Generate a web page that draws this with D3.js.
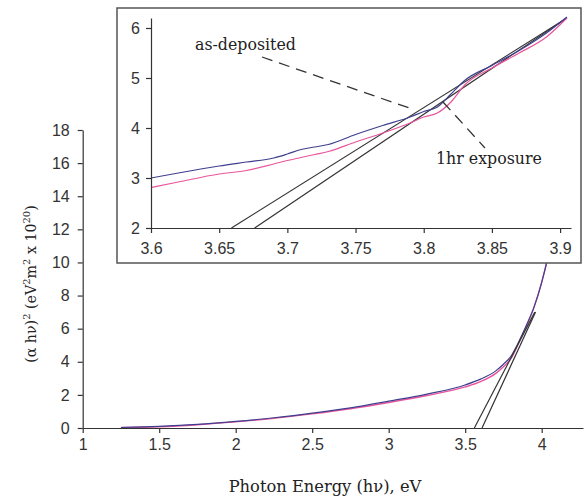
<!DOCTYPE html>
<html>
<head>
<meta charset="utf-8">
<script src="https://cdn.jsdelivr.net/npm/d3@7"></script>
<style>
  body { margin: 0; background: #fff; }
  .tick text { font-family: "Liberation Sans", Arial, sans-serif; font-size: 16px; fill: #333; }
  .domain, .tick line { stroke: #333; stroke-width: 1.2; }
</style>
</head>
<body>
<script>
// Hauptdiagramm: Photonenenergie (eV) und (alpha h nu)^2
let energyMain = [1.25, 1.5, 1.75, 2, 2.25, 2.5, 2.75, 3, 3.25, 3.5, 3.6, 3.7, 3.75, 3.8, 3.85, 3.9, 3.95, 4.0, 4.05, 4.1];
let asDepositedMain = [0.03, 0.1, 0.22, 0.4, 0.62, 0.9, 1.22, 1.62, 2.05, 2.6, 2.95, 3.45, 3.85, 4.35, 5.2, 6.2, 7.3, 8.8, 10.7, 13];
let exposedMain = [0.03, 0.08, 0.2, 0.37, 0.58, 0.85, 1.16, 1.54, 1.96, 2.48, 2.8, 3.3, 3.7, 4.2, 5.15, 6.15, 7.3, 8.8, 10.7, 13];
let tangentsMain = [
  [[3.56, 0], [3.955, 7.0]],
  [[3.61, 0], [3.96, 7.0]]
];
let xTicksMain = [1, 1.5, 2, 2.5, 3, 3.5, 4];
let yTicksMain = [0, 2, 4, 6, 8, 10, 12, 14, 16, 18];

// Ausschnitt (Inset)
let energyInset = [3.6, 3.62, 3.65, 3.67, 3.69, 3.7, 3.71, 3.72, 3.73, 3.75, 3.77, 3.79, 3.8, 3.81, 3.82, 3.83, 3.85, 3.87, 3.89, 3.905];
let asDepositedInset = [3.0, 3.1, 3.24, 3.32, 3.4, 3.48, 3.57, 3.62, 3.67, 3.87, 4.05, 4.22, 4.33, 4.42, 4.68, 4.95, 5.25, 5.55, 5.9, 6.22];
let exposedInset = [2.81, 2.92, 3.08, 3.15, 3.28, 3.35, 3.41, 3.47, 3.53, 3.72, 3.9, 4.1, 4.22, 4.3, 4.52, 4.86, 5.2, 5.5, 5.82, 6.2];
let tangentsInset = [
  [[3.659, 2], [3.905, 6.2]],
  [[3.676, 2], [3.905, 6.2]]
];
let xTicksInset = [3.6, 3.65, 3.7, 3.75, 3.8, 3.85, 3.9];
let yTicksInset = [2, 3, 4, 5, 6];

let blue = "#3f3f8f";
let pink = "#e8559c";
let dark = "#333";
let serif = "DejaVu Serif, serif";

let svg = d3.select("body").append("svg").attr("width", 584).attr("height", 498);

// Skalen Hauptdiagramm
let x = d3.scaleLinear().domain([1, 4.27]).range([82.7, 583]);
let y = d3.scaleLinear().domain([0, 18]).range([428, 130]);

let lineMain = (vals) => d3.line().x((d, i) => x(energyMain[i])).y((d) => y(d)).curve(d3.curveMonotoneX)(vals);

svg.append("path").attr("d", lineMain(exposedMain)).attr("fill", "none").attr("stroke", pink).attr("stroke-width", 1.4);
svg.append("path").attr("d", lineMain(asDepositedMain)).attr("fill", "none").attr("stroke", blue).attr("stroke-width", 1.2);

tangentsMain.forEach((t) => {
  svg.append("line")
    .attr("x1", x(t[0][0])).attr("y1", y(t[0][1]))
    .attr("x2", x(t[1][0])).attr("y2", y(t[1][1]))
    .attr("stroke", dark).attr("stroke-width", 1.2);
});

svg.append("g").attr("transform", "translate(0,428)")
  .call(d3.axisBottom(x).tickValues(xTicksMain).tickSize(5).tickSizeOuter(0).tickPadding(6).tickFormat(d3.format("")));
svg.append("g").attr("transform", "translate(82.7,0)")
  .call(d3.axisLeft(y).tickValues(yTicksMain).tickSize(5).tickSizeOuter(0).tickPadding(8).tickFormat(d3.format("")));

// Achsentitel
svg.append("text")
  .attr("x", 325).attr("y", 492)
  .attr("text-anchor", "middle")
  .style("font-family", serif).style("font-size", "16.3px").style("fill", "#222")
  .text("Photon Energy (hν), eV");

let yTitle = svg.append("text")
  .attr("transform", "translate(36,284) rotate(-90)")
  .attr("text-anchor", "middle")
  .style("font-family", serif).style("font-size", "14.2px").style("fill", "#222");
let parts = [["(α hν)", 0], ["2", 1], [" (eV", 0], ["2", 1], ["m", 0], ["2", 1], [" x 10", 0], ["20", 1], [")", 0]];
let up = false;
parts.forEach((p) => {
  let ts = yTitle.append("tspan").text(p[0]);
  if (p[1] && !up) { ts.attr("dy", -6).style("font-size", "10px"); up = true; }
  else if (!p[1] && up) { ts.attr("dy", 6); up = false; }
});

// Inset
let inset = svg.append("g");
inset.append("rect")
  .attr("x", 117).attr("y", 8).attr("width", 464).attr("height", 255)
  .attr("fill", "#fff").attr("stroke", "#555").attr("stroke-width", 1.5);

let xi = d3.scaleLinear().domain([3.6, 3.908]).range([151, 571]);
let yi = d3.scaleLinear().domain([2, 6.2]).range([228, 18]);

let lineInset = (vals) => d3.line().x((d, i) => xi(energyInset[i])).y((d) => yi(d)).curve(d3.curveMonotoneX)(vals);

tangentsInset.forEach((t) => {
  inset.append("line")
    .attr("x1", xi(t[0][0])).attr("y1", yi(t[0][1]))
    .attr("x2", xi(t[1][0])).attr("y2", yi(t[1][1]))
    .attr("stroke", dark).attr("stroke-width", 1.2);
});
inset.append("path").attr("d", lineInset(exposedInset)).attr("fill", "none").attr("stroke", pink).attr("stroke-width", 1.2);
inset.append("path").attr("d", lineInset(asDepositedInset)).attr("fill", "none").attr("stroke", blue).attr("stroke-width", 1.2);

inset.append("g").attr("transform", "translate(0,228)")
  .call(d3.axisBottom(xi).tickValues(xTicksInset).tickSize(5).tickSizeOuter(0).tickPadding(10).tickFormat(d3.format("")));
inset.append("g").attr("transform", "translate(151,0)")
  .call(d3.axisLeft(yi).tickValues(yTicksInset).tickSize(5).tickSizeOuter(0).tickPadding(6).tickFormat(d3.format("")));

// Beschriftungen mit gestrichelten Linien
inset.append("line").attr("x1", 262).attr("y1", 57).attr("x2", 415).attr("y2", 110)
  .attr("stroke", dark).attr("stroke-width", 1.3).attr("stroke-dasharray", "11,7");
inset.append("line").attr("x1", 443).attr("y1", 102).attr("x2", 485).attr("y2", 148)
  .attr("stroke", dark).attr("stroke-width", 1.3).attr("stroke-dasharray", "11,7");

inset.append("text").attr("x", 195).attr("y", 50)
  .style("font-family", serif).style("font-size", "15.8px").style("fill", "#222")
  .text("as-deposited");
inset.append("text").attr("x", 436).attr("y", 164)
  .style("font-family", serif).style("font-size", "15.8px").style("fill", "#222")
  .text("1hr exposure");
</script>
</body>
</html>
